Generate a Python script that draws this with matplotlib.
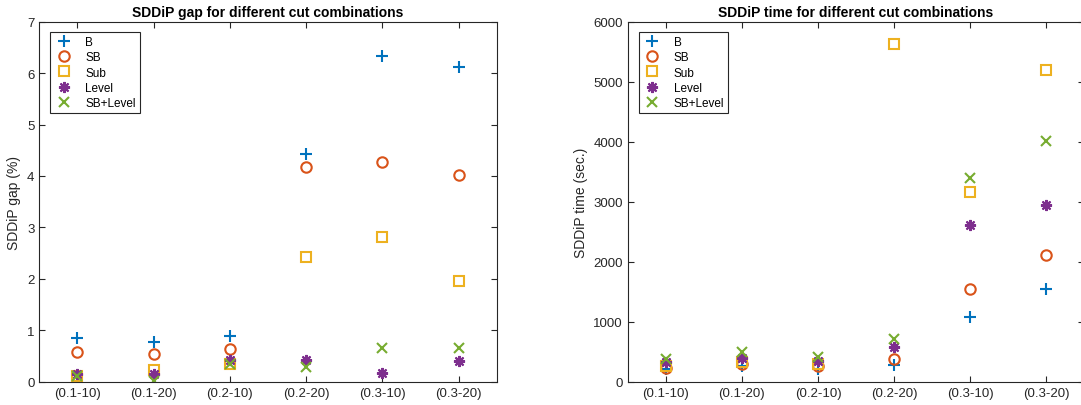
import matplotlib
matplotlib.use("Agg")
import matplotlib.pyplot as plt

# cut combinations (x axis)
combos = ["(0.1-10)", "(0.1-20)", "(0.2-10)", "(0.2-20)", "(0.3-10)", "(0.3-20)"]
methods = ["B", "SB", "Sub", "Level", "SB+Level"]

# SDDiP gap (%)
gap_B = [0.84, 0.77, 0.89, 4.42, 6.34, 6.11]
gap_SB = [0.57, 0.54, 0.63, 4.17, 4.28, 4.01]
gap_Sub = [0.12, 0.22, 0.35, 2.42, 2.81, 1.95]
gap_Level = [0.15, 0.14, 0.42, 0.43, 0.16, 0.40]
gap_SBLevel = [0.12, 0.01, 0.35, 0.28, 0.66, 0.65]

# SDDiP time (sec.)
time_B = [210, 265, 210, 275, 1080, 1550]
time_SB = [235, 295, 255, 370, 1550, 2105]
time_Sub = [260, 330, 290, 5625, 3160, 5190]
time_Level = [320, 390, 340, 570, 2615, 2950]
time_SBLevel = [375, 500, 415, 705, 3395, 4005]

colors = ["#0072BD", "#D95319", "#EDB120", "#7E2F8E", "#77AC30"]
markers = ["+", "o", "s", (8, 2, 0), "x"]
sizes = [8.5, 7.5, 6.5, 8, 7]

plt.rcParams["font.family"] = ["Liberation Sans", "DejaVu Sans"]
fig = plt.figure(figsize=(10.81, 4.06), dpi=100)
ax1 = fig.add_axes([0.0364, 0.0574, 0.4231, 0.8867])
ax2 = fig.add_axes([0.5807, 0.0574, 0.4223, 0.8867])

x = list(range(1, len(combos) + 1))


def draw_panel(ax, series, title, ylabel, ylim, yticks):
    for vals, name, c, m, s in zip(series, methods, colors, markers, sizes):
        ax.plot(x, vals, linestyle="none", marker=m, markersize=s,
                markerfacecolor="none", markeredgecolor=c, markeredgewidth=1.5,
                label=name)
    ax.set_xlim(0.5, 6.5)
    ax.set_ylim(*ylim)
    ax.set_xticks(x)
    ax.set_xticklabels(combos)
    ax.set_yticks(yticks)
    ax.tick_params(direction="in", top=True, right=True, labelsize=9.5,
                   colors="#262626", length=4, width=0.8)
    for sp in ax.spines.values():
        sp.set_color("#262626")
        sp.set_linewidth(0.8)
    ax.set_title(title, fontsize=10, fontweight="bold", pad=4)
    ax.set_ylabel(ylabel, fontsize=10, color="#262626")
    leg = ax.legend(loc="upper left", bbox_to_anchor=(0.024, 0.972),
                    borderaxespad=0, fontsize=8.5, fancybox=False,
                    edgecolor="#262626", framealpha=1, handletextpad=1.0,
                    labelspacing=0.28, borderpad=0.35, handlelength=1.6)
    leg.get_frame().set_linewidth(0.8)


draw_panel(ax1, [gap_B, gap_SB, gap_Sub, gap_Level, gap_SBLevel],
           "SDDiP gap for different cut combinations", "SDDiP gap (%)",
           (0, 7), range(0, 8))
draw_panel(ax2, [time_B, time_SB, time_Sub, time_Level, time_SBLevel],
           "SDDiP time for different cut combinations", "SDDiP time (sec.)",
           (0, 6000), range(0, 6001, 1000))

fig.savefig("out.png", dpi=100)
